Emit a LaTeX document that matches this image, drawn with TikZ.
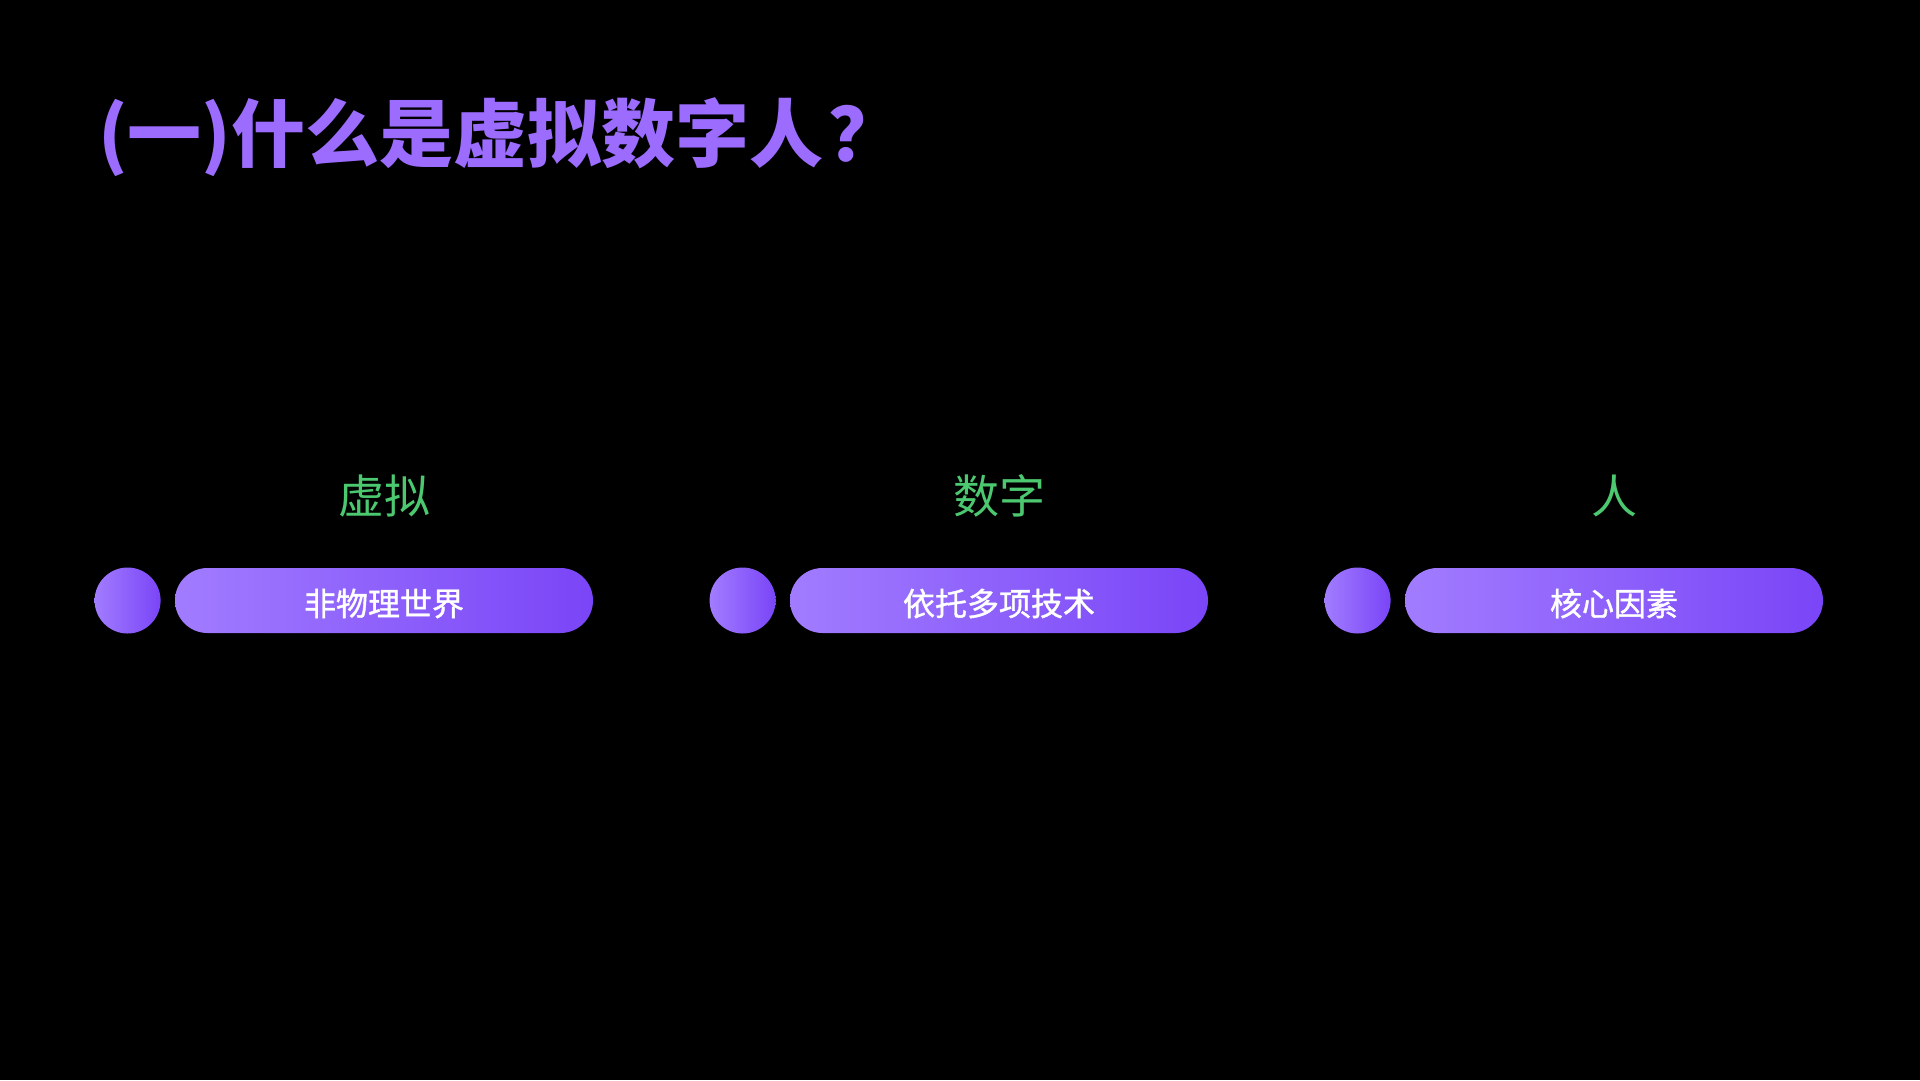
\documentclass[tikz,border=0pt]{standalone}
\usepackage{fontspec}
\usepackage{xcolor}
\usepackage{tikz}
\usetikzlibrary{
    positioning,
    shapes.misc,
}
\newfontfamily\cjk{Noto Sans CJK SC}
\newfontfamily\cjkmed{Noto Sans CJK SC}[FakeBold=1.2]
\definecolor{titlepurple}{HTML}{9C6CFF}
\definecolor{tagGreen}{HTML}{4CC970}
\definecolor{pillLight}{HTML}{A17CFF}
\definecolor{pillDark}{HTML}{7A45F7}
\newcommand{\pilltext}[1]{\raisebox{-3pt}[\height][\depth]{#1}}
\tikzset{
    % Text styles
    title/.style={anchor=west, inner sep=0pt, text=titlepurple, font=\cjk\bfseries\fontsize{74}{80}\selectfont},
    tag/.style={inner sep=0pt, text=tagGreen, font=\cjk\fontsize{46}{50}\selectfont},
    % Shape styles
    pill/.style={rounded rectangle, minimum width=418pt, minimum height=65pt, inner sep=0pt,
                 left color=pillLight, right color=pillDark, text=white,
                 font=\cjkmed\fontsize{32}{36}\selectfont},
    dot/.style={circle, minimum size=66pt, inner sep=0pt, left color=pillLight, right color=pillDark},
}

\begin{document}
\begin{tikzpicture}[x=1pt, y=-1pt]
    % Background
    \fill[black] (0,0) rectangle (1920,1080);

    % Title
    \node[title] (title) at (98,137) {(一)什么是虚拟数字人\hspace{5pt}？};

    % Left column
    \node[pill] (pill1) at (384,600.5) {\pilltext{非物理世界}};
    \node[dot, left=14pt of pill1] (dot1) {};
    \node[tag] (tag1) at (384,496) {虚拟};

    % Middle column
    \node[pill] (pill2) at (999,600.5) {\pilltext{依托多项技术}};
    \node[dot, left=14pt of pill2] (dot2) {};
    \node[tag] (tag2) at (999,496) {数字};

    % Right column
    \node[pill] (pill3) at (1614,600.5) {\pilltext{核心因素}};
    \node[dot, left=14pt of pill3] (dot3) {};
    \node[tag] (tag3) at (1614,496) {人};
\end{tikzpicture}
\end{document}
